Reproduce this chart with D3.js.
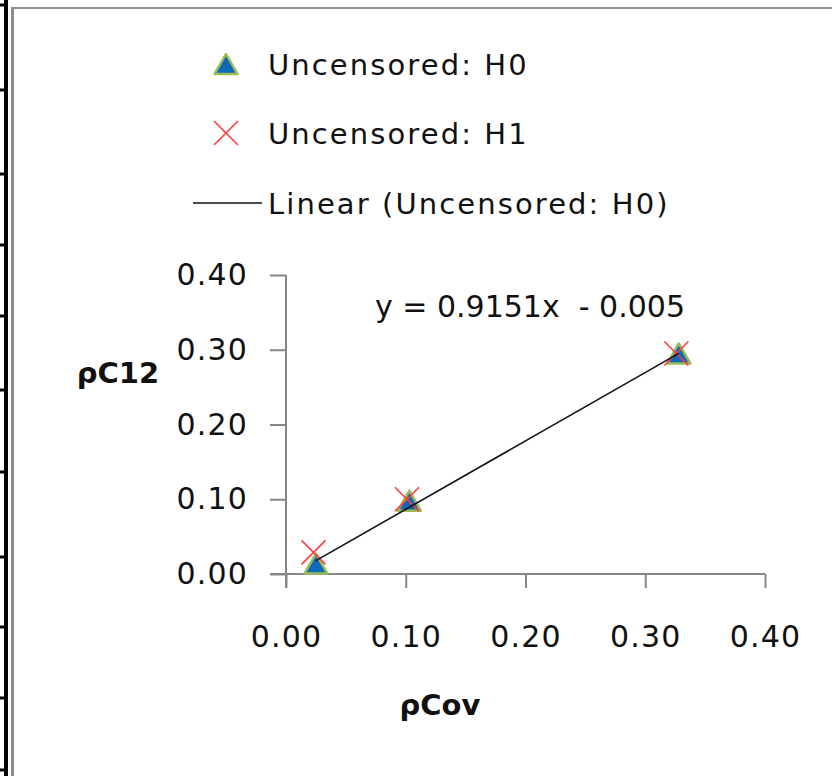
<!DOCTYPE html>
<html>

<head>
  <meta charset='utf-8'>
  <script src='https://cdn.jsdelivr.net/npm/d3@7/dist/d3.min.js'></script>
  <title></title>
  <style>
    body {
      margin: 0;
      background: #fff;
    }

    #chart {
      width: 832px;
      height: 776px;
    }

    text {
      font-family: 'DejaVu Sans', Verdana, sans-serif;
      fill: #111;
    }
  </style>
</head>

<body>
  <div id='chart'></div>
  <script>
    // values
    var seriesNames = ['Uncensored: H0', 'Uncensored: H1', 'Linear (Uncensored: H0)'];
    var h0X = [0.025, 0.103, 0.328];
    var h0Y = [0.014, 0.098, 0.295];
    var h1X = [0.023, 0.101, 0.326];
    var h1Y = [0.029, 0.100, 0.295];
    var trendSlope = 0.9151,
      trendIntercept = -0.005;
    var xTicks = [0, 0.1, 0.2, 0.3, 0.4];
    var yTicks = [0, 0.1, 0.2, 0.3, 0.4];
    var xTitle = 'ρCov',
      yTitle = 'ρC12';

    function triPath(w, h) {
      return 'M0,' + (-h / 2) + 'L' + (w / 2) + ',' + (h / 2) + 'L' + (-w / 2) + ',' + (h / 2) + 'Z';
    }

    function crossPath(r) {
      return 'M' + (-r) + ',' + (-r) + 'L' + r + ',' + r + 'M' + (-r) + ',' + r + 'L' + r + ',' + (-r);
    }

    function draw() {
      var width = 832,
        height = 776;

      var svg = d3.select('#chart')
        .append('svg')
        .attr('width', width)
        .attr('height', height);

      // bits of the neighbouring chart and the frame, cropped at the edge
      svg.append('rect').attr('x', 4).attr('y', 0).attr('width', 4).attr('height', height).attr('fill', '#000');
      svg.selectAll('.edgetick')
        .data([5, 90, 174, 245, 316, 390, 472, 557, 627, 698, 770])
        .enter()
        .append('rect')
        .attr('class', 'edgetick')
        .attr('x', 0)
        .attr('y', function(d) { return d - 1.5; })
        .attr('width', 5)
        .attr('height', 3)
        .attr('fill', '#000');
      svg.append('line').attr('x1', 12.5).attr('x2', 12.5).attr('y1', 7).attr('y2', height)
        .attr('stroke', '#8c8c8c').attr('stroke-width', 3);
      svg.append('line').attr('x1', 11).attr('x2', width).attr('y1', 8).attr('y2', 8)
        .attr('stroke', '#8c8c8c').attr('stroke-width', 2);

      var x = d3.scaleLinear().domain([0, 0.4]).range([286, 765]);
      var y = d3.scaleLinear().domain([0, 0.4]).range([574, 275]);

      var xAxis = svg.append('g')
        .attr('transform', 'translate(0,' + y(0) + ')')
        .call(d3.axisBottom(x).tickValues(xTicks).tickFormat(d3.format('.2f')).tickSize(14).tickSizeOuter(0).tickPadding(38));
      xAxis.select('.domain').attr('d', 'M' + (x(0) - 16) + ',0H' + x(0.4));

      var yAxis = svg.append('g')
        .attr('transform', 'translate(' + x(0) + ',0)')
        .call(d3.axisLeft(y).tickValues(yTicks).tickFormat(d3.format('.2f')).tickSize(16).tickSizeOuter(0).tickPadding(22));
      yAxis.select('.domain').attr('d', 'M0,' + y(0.4) + 'V' + (y(0) + 14));

      svg.selectAll('.domain, .tick line')
        .attr('stroke', '#868686')
        .attr('stroke-width', 2);
      svg.selectAll('.tick text')
        .attr('font-size', 30)
        .attr('font-family', null)
        .attr('letter-spacing', 1.2)
        .attr('fill', '#111');

      // markers
      var h0 = h0X.map(function(v, i) { return [v, h0Y[i]]; });
      var h1 = h1X.map(function(v, i) { return [v, h1Y[i]]; });

      svg.selectAll('.h0')
        .data(h0)
        .enter()
        .append('path')
        .attr('class', 'h0')
        .attr('d', triPath(23, 20))
        .attr('transform', function(d) { return 'translate(' + x(d[0]) + ',' + y(d[1]) + ')'; })
        .attr('fill', '#1068b8')
        .attr('stroke', '#9bbb59')
        .attr('stroke-width', 2.5)
        .attr('stroke-linejoin', 'round');

      svg.selectAll('.h1')
        .data(h1)
        .enter()
        .append('path')
        .attr('class', 'h1')
        .attr('d', crossPath(12))
        .attr('transform', function(d) { return 'translate(' + x(d[0]) + ',' + y(d[1]) + ')'; })
        .attr('fill', 'none')
        .attr('stroke', '#ff3b3b')
        .attr('stroke-width', 1.6);

      // trendline over the H0 range
      var xMin = d3.min(h0X),
        xMax = d3.max(h0X);
      svg.append('line')
        .attr('x1', x(xMin))
        .attr('y1', y(trendSlope * xMin + trendIntercept))
        .attr('x2', x(xMax))
        .attr('y2', y(trendSlope * xMax + trendIntercept))
        .attr('stroke', '#111')
        .attr('stroke-width', 1.6);

      svg.append('text')
        .attr('x', 375)
        .attr('y', 317)
        .attr('font-size', 30)
        .text('y = ' + trendSlope + 'x  - ' + Math.abs(trendIntercept))
        .attr('xml:space', 'preserve');

      // axis titles
      svg.append('text')
        .attr('x', 440)
        .attr('y', 715)
        .attr('text-anchor', 'middle')
        .attr('font-size', 29)
        .attr('font-weight', 'bold')
        .text(xTitle);
      svg.append('text')
        .attr('x', 118)
        .attr('y', 383)
        .attr('text-anchor', 'middle')
        .attr('font-size', 29)
        .attr('font-weight', 'bold')
        .text(yTitle);

      // legend
      var legend = svg.append('g');
      var rowY = [64, 133, 203];
      legend.append('path')
        .attr('d', triPath(23, 20))
        .attr('transform', 'translate(226,' + rowY[0] + ')')
        .attr('fill', '#1068b8')
        .attr('stroke', '#9bbb59')
        .attr('stroke-width', 2.5)
        .attr('stroke-linejoin', 'round');
      legend.append('path')
        .attr('d', crossPath(12))
        .attr('transform', 'translate(226,' + rowY[1] + ')')
        .attr('fill', 'none')
        .attr('stroke', '#ff3b3b')
        .attr('stroke-width', 1.6);
      legend.append('line')
        .attr('x1', 193).attr('x2', 262)
        .attr('y1', rowY[2]).attr('y2', rowY[2])
        .attr('stroke', '#111')
        .attr('stroke-width', 1.6);
      legend.selectAll('.ltext')
        .data(seriesNames)
        .enter()
        .append('text')
        .attr('class', 'ltext')
        .attr('x', 268)
        .attr('y', function(d, i) { return rowY[i] + 10.5; })
        .attr('font-size', 29)
        .attr('letter-spacing', 2.1)
        .text(function(d) { return d; });
    }

    draw();
  </script>
</body>

</html>
